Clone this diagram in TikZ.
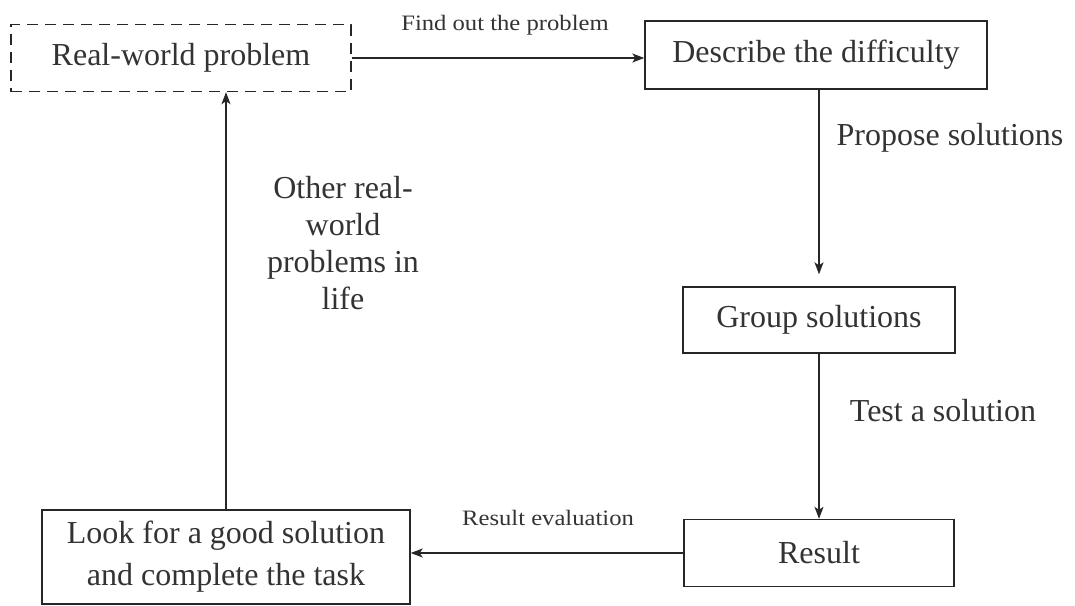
\documentclass[tikz,border=0pt]{standalone}
\usepackage{fontspec}
\setmainfont{Liberation Serif}
\newfontfamily\widefont[FakeStretch=1.12]{Liberation Serif}
\usetikzlibrary{arrows.meta}
\begin{document}
\begin{tikzpicture}[x=1pt,y=-1pt,
  box/.style={draw=black!85, line width=1.4pt, rectangle, inner sep=0pt, font=\fontsize{32}{38}\selectfont, text=black!80},
  dbox/.style={box, dashed, dash pattern=on 11pt off 7pt},
  arr/.style={draw=black!85, line width=1.3pt, -{Stealth[length=12pt,width=9pt,inset=3pt]}},
  lbl/.style={font=\fontsize{32}{37}\selectfont, text=black!80, inner sep=0pt},
  slbl/.style={font=\widefont\fontsize{22}{26}\selectfont, text=black!80, inner sep=0pt}]
\useasboundingbox (0,0) rectangle (1075,605);
\node[dbox, minimum width=340pt, minimum height=67pt] (rw) at (181,58) {Real-world problem};
\node[box, minimum width=342pt, minimum height=68pt] (dd) at (816,55) {Describe the difficulty};
\node[box, minimum width=272pt, minimum height=66pt] (gs) at (819,320) {Group solutions};
\node[box, minimum width=270pt, minimum height=67pt] (rs) at (819,553) {Result};
\node[box, minimum width=368pt, minimum height=94pt, align=center, font=\fontsize{32}{42}\selectfont] (lk) at (226,557) {Look for a good solution\\and complete the task};
\draw[arr] (rw.east) -- (rw.east -| dd.west);
\draw[arr, shorten >=12pt] (gs.north |- dd.south) -- (gs.north);
\draw[arr] (gs.south) -- (rs.north);
\draw[arr] (rs.west) -- (rs.west -| lk.east);
\draw[arr] (lk.north) -- (lk.north |- rw.south);
\node[slbl] (l1) at (505,25) {Find out the problem};
\node[lbl] (l2) at (950,138) {Propose solutions};
\node[lbl] (l3) at (943,411) {Test a solution};
\node[slbl] (l4) at (548,518) {Result evaluation};
\node[lbl, align=center] (l5) at (343,243) {Other real-\\world\\problems in\\life};
\end{tikzpicture}
\end{document}
